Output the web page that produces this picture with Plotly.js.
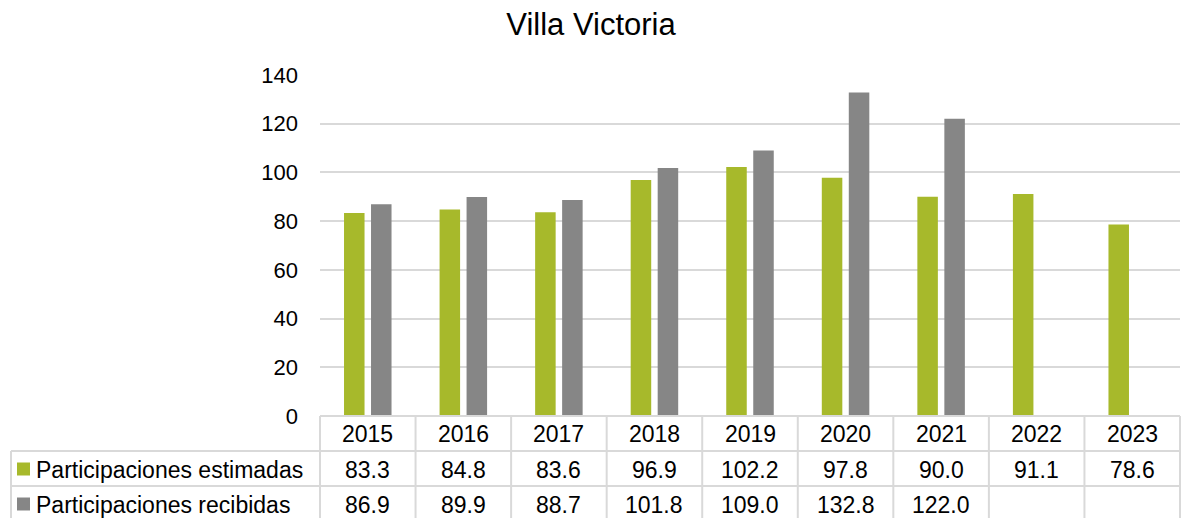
<!DOCTYPE html>
<html>
<head>
<meta charset="utf-8">
<script src="https://cdn.plot.ly/plotly-3.0.1.min.js"></script>
<style>html,body{margin:0;padding:0;background:#fff;}#chart{width:1182px;height:518px;}</style>
</head>
<body>
<div id="chart"></div>
<script>
const years = ["2015","2016","2017","2018","2019","2020","2021","2022","2023"];
const estimadas = [83.3, 84.8, 83.6, 96.9, 102.2, 97.8, 90.0, 91.1, 78.6];
const recibidas = [86.9, 89.9, 88.7, 101.8, 109.0, 132.8, 122.0, null, null];
const seriesNames = ["Participaciones estimadas", "Participaciones recibidas"];
const seriesColors = ["#A7B92B", "#868686"];
const yTicks = [0, 20, 40, 60, 80, 100, 120, 140];

const W = 1182, H = 518;
const M = {l: 320, r: 2, t: 75, b: 102};
const PW = W - M.l - M.r, PH = H - M.t - M.b;
const px2x = p => (p - M.l) / PW;
const py2y = p => (H - M.b - p) / PH;

const FONT = "Liberation Sans, Arial, sans-serif";
const gridCol = "#D9D9D9";

const traces = [
  {type: "bar", x: years, y: estimadas, name: seriesNames[0], marker: {color: seriesColors[0]}, hoverinfo: "x+y"},
  {type: "bar", x: years, y: recibidas, name: seriesNames[1], marker: {color: seriesColors[1]}, hoverinfo: "x+y"}
];

const shapes = [];
const annotations = [];
const n = years.length;
const rowTop = [416, 451, 486, 521];
const line = {color: gridCol, width: 2};
// horizontal lines
shapes.push({type: "line", xref: "paper", yref: "paper", x0: 0, x1: 1, y0: py2y(rowTop[0]), y1: py2y(rowTop[0]), line});
for (let r = 1; r < rowTop.length; r++) {
  shapes.push({type: "line", xref: "paper", yref: "paper", x0: px2x(11), x1: 1, y0: py2y(rowTop[r]), y1: py2y(rowTop[r]), line});
}
// vertical lines
shapes.push({type: "line", xref: "paper", yref: "paper", x0: px2x(11), x1: px2x(11), y0: py2y(rowTop[1]), y1: py2y(rowTop[3]), line});
for (let i = 0; i <= n; i++) {
  shapes.push({type: "line", xref: "paper", yref: "paper", x0: i / n, x1: i / n, y0: py2y(rowTop[0]), y1: py2y(rowTop[3]), line});
}
// header years
years.forEach((yr, i) => {
  annotations.push({xref: "paper", yref: "paper", x: (i + 0.5) / n, y: py2y(434), text: yr, showarrow: false,
    xanchor: "center", yanchor: "middle", font: {family: FONT, size: 23, color: "#000"}});
});
// data rows
const rows = [estimadas, recibidas];
rows.forEach((vals, r) => {
  const cy = (rowTop[r + 1] + rowTop[r + 2]) / 2 + 1;
  // legend key
  shapes.push({type: "rect", xref: "paper", yref: "paper", x0: px2x(17), x1: px2x(30), y0: py2y(cy - 7), y1: py2y(cy + 6),
    fillcolor: seriesColors[r], line: {width: 0}});
  annotations.push({xref: "paper", yref: "paper", x: px2x(34), y: py2y(cy), text: seriesNames[r], showarrow: false,
    xanchor: "left", yanchor: "middle", font: {family: FONT, size: 23, color: "#000"}});
  vals.forEach((v, i) => {
    if (v === null) return;
    annotations.push({xref: "paper", yref: "paper", x: (i + 0.5) / n, y: py2y(cy), text: v.toFixed(1), showarrow: false,
      xanchor: "center", yanchor: "middle", font: {family: FONT, size: 23, color: "#000"}});
  });
});

const layout = {
  width: W, height: H,
  margin: M,
  paper_bgcolor: "#fff", plot_bgcolor: "#fff",
  showlegend: false,
  barmode: "group", bargap: 0.435, bargroupgap: 0.24,
  title: {text: "Villa Victoria", font: {family: FONT, size: 31, color: "#000"},
    xref: "container", x: 0.5, xanchor: "center", yref: "container", y: 1 - 24 / H, yanchor: "middle"},
  xaxis: {type: "category", range: [-0.5, n - 0.5], showticklabels: false, showgrid: false, zeroline: false, showline: false, ticks: ""},
  yaxis: {range: [0, 140], tickvals: yTicks, ticktext: yTicks.map(String), showgrid: true, gridcolor: gridCol, gridwidth: 2,
    zeroline: false, showline: false, ticks: "", ticklabelstandoff: 21,
    tickfont: {family: FONT, size: 22, color: "#000"}},
  shapes, annotations
};
Plotly.newPlot("chart", traces, layout, {displayModeBar: false, staticPlot: true});
</script>
</body>
</html>
